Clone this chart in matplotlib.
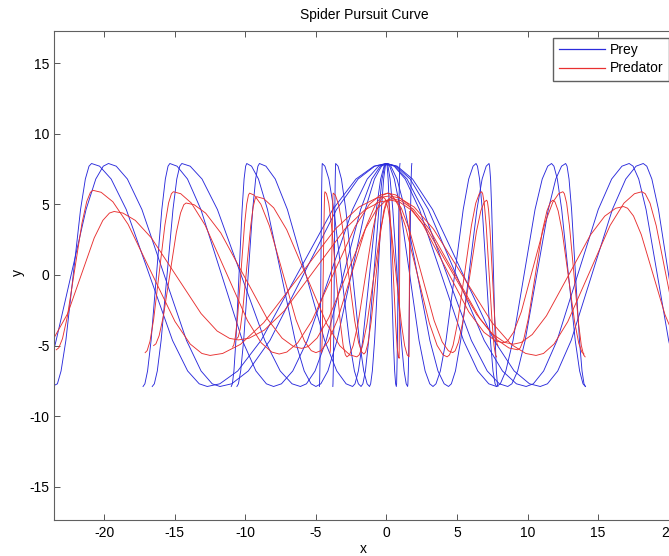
import matplotlib
matplotlib.use("Agg")
import matplotlib.pyplot as plt
from matplotlib.lines import Line2D

plt.rcParams['font.family'] = ['Liberation Sans', 'DejaVu Sans']
plt.rcParams['axes.unicode_minus'] = False

# prey (blue), amplitude ~7.9
rise = [-7.71, -6.80, -4.64, 0, 4.64, 6.80, 7.71]
fall = [7.71, 6.80, 4.64, 0, -4.64, -6.80, -7.71]

prey_x = [
    [-23.5, -23.32, -23.06, -22.72, -22.2, -21.68, -21.34, -21.08, -20.9, -20.33, -19.51, -18.44, -16.8, -15.16,
     -14.09, -13.27, -12.7, -11.81, -10.54, -8.89, -6.35, -3.81, -2.16, -0.89, 0, 0.76, 1.85, 3.27, 5.45, 7.63,
     9.05, 10.14, 10.9, 11.41, 12.14, 13.09, 14.55, 16.01, 16.96, 17.69, 18.2, 18.45, 18.81, 19.28, 20.0, 20.72,
     21.19, 21.55, 21.8],
    [-23.5, -23.41, -22.35, -21.29, -20.6, -20.07, -19.7, -19.15, -18.36, -17.33, -15.75, -14.17, -13.14, -12.35,
     -11.8, -10.97, -9.79, -8.26, -5.9, -3.54, -2.01, -0.83, 0, 0.69, 1.68, 2.97, 4.95, 6.93, 8.22, 9.21, 9.9,
     10.41, 11.14, 12.09, 13.55, 15.01, 15.96, 16.69, 17.2, 17.48, 17.88, 18.4, 19.2, 20.0, 20.52, 20.92, 21.2],
    [-17.25, -17.12, -16.93, -16.68, -16.3, -15.92, -15.67, -15.48, -15.35, -14.84, -14.1, -13.15, -11.68, -10.21,
     -9.25, -8.51, -8.0, -7.44, -6.64, -5.6, -4.0, -2.4, -1.36, -0.56, 0, 0.55, 1.33, 2.34, 3.9, 5.46, 6.47, 7.25,
     7.8, 8.07, 8.46, 8.97, 9.75, 10.53, 11.04, 11.43, 11.7, 11.87, 12.11, 12.42, 12.9, 13.38, 13.69, 13.93, 14.1],
    [-16.6, -16.45, -16.24, -15.97, -15.55, -15.13, -14.86, -14.65, -14.5, -13.91, -13.07, -11.98, -10.3, -8.62,
     -7.53, -6.69, -6.1, -5.67, -5.06, -4.27, -3.05, -1.83, -1.04, -0.43, 0, 0.6, 1.46, 2.58, 4.3, 6.02, 7.14, 8.0,
     8.6, 8.89, 9.3, 9.83, 10.65, 11.47, 12.0, 12.41, 12.7, 12.8, 12.94, 13.12, 13.4, 13.68, 13.86, 14.0, 14.1],
    [-11.0, -10.92, -10.81, -10.67, -10.45, -10.23, -10.09, -9.98, -9.9, -9.56, -9.07, -8.43, -7.45, -6.47, -5.83,
     -5.34, -5.0, -4.65, -4.15, -3.5, -2.5, -1.5, -0.85, -0.35, 0, 0.23, 0.56, 0.99, 1.65, 2.31, 2.74, 3.07, 3.3,
     3.51, 3.82, 4.22, 4.83, 5.44, 5.83, 6.14, 6.35, 6.45, 6.6, 6.79, 7.08, 7.37, 7.55, 7.7, 7.8],
    [-10.6, -10.49, -10.33, -10.12, -9.8, -9.48, -9.27, -9.11, -9.0, -8.54, -7.88, -7.02, -5.7, -4.38, -3.52, -2.86,
     -2.4, -2.23, -1.99, -1.68, -1.2, -0.72, -0.41, -0.17, 0, 0.31, 0.75, 1.32, 2.2, 3.08, 3.65, 4.09, 4.4, 4.6,
     4.89, 5.26, 5.84, 6.41, 6.78, 7.07, 7.27, 7.31, 7.38, 7.46, 7.59, 7.71, 7.79, 7.86, 7.9],
    [-4.75, -4.74, -4.72, -4.69, -4.65, -4.61, -4.58, -4.56, -4.55, -4.36, -4.08, -3.73, -3.18, -2.63, -2.27, -1.99,
     -1.8, -1.67, -1.49, -1.26, -0.9, -0.54, -0.31, -0.13, 0, 0.11, 0.26, 0.45, 0.75, 1.05, 1.25, 1.4, 1.5, 1.52,
     1.55, 1.59, 1.65, 1.71, 1.75, 1.78, 1.8],
    [-3.8, -3.79, -3.77, -3.74, -3.7, -3.66, -3.63, -3.61, -3.6, -3.43, -3.19, -2.88, -2.4, -1.92, -1.61, -1.37,
     -1.2, -1.12, -1.0, -0.84, -0.6, -0.36, -0.2, -0.08, 0, 0.05, 0.12, 0.21, 0.35, 0.49, 0.58, 0.65, 0.7, 0.72,
     0.74, 0.78, 0.83, 0.88, 0.92, 0.94, 0.96],
]
full_wave = ([-7.9] + rise + [7.9] + fall + [-7.9] + rise + [7.9] + fall
             + [-7.9] + rise + [7.9] + fall + [-7.9])
prey_y = [
    [-7.8] + full_wave[1:],
    [-5.0, -4.64, 0, 4.64, 6.80, 7.71, 7.9] + fall + [-7.9] + rise + [7.9] + fall + [-7.9] + rise + [7.9]
    + fall + [-7.9],
    full_wave,
    full_wave,
    full_wave,
    full_wave,
    full_wave[:41],
    full_wave[:41],
]

# predator (red)
pred_x = [
    [-23.4, -23.22, -22.96, -22.62, -22.1, -21.58, -21.24, -20.98, -20.8, -20.22, -19.39, -18.31, -16.65, -14.99,
     -13.91, -13.08, -12.5, -11.61, -10.34, -8.69, -6.15, -3.61, -1.96, -0.69, 0.2, 0.93, 1.97, 3.32, 5.4, 7.48,
     8.83, 9.87, 10.6, 11.13, 11.88, 12.85, 14.35, 15.85, 16.83, 17.58, 18.1, 18.34, 18.68, 19.12, 19.8, 20.48,
     20.92, 21.26, 21.5],
    [-23.5, -22.59, -21.65, -20.71, -20.1, -19.63, -19.3, -18.68, -17.8, -16.66, -14.9, -13.14, -12.0, -11.12, -10.5,
     -9.74, -8.66, -7.26, -5.1, -2.94, -1.54, -0.46, 0.3, 0.91, 1.78, 2.91, 4.65, 6.39, 7.52, 8.39, 9.0, 9.55,
     10.33, 11.34, 12.9, 14.46, 15.47, 16.25, 16.8, 17.09, 17.51, 18.06, 18.9, 19.74, 20.29, 20.71, 21.0],
    [-17.1, -16.96, -16.76, -16.5, -16.1, -15.7, -15.44, -15.24, -15.1, -14.58, -13.83, -12.85, -11.35, -9.85,
     -8.88, -8.13, -7.6, -7.06, -6.29, -5.29, -3.75, -2.21, -1.21, -0.44, 0.1, 0.67, 1.49, 2.56, 4.2, 5.84, 6.91,
     7.73, 8.3, 8.59, 9.01, 9.56, 10.4, 11.24, 11.79, 12.21, 12.5, 12.61, 12.77, 12.97, 13.29, 13.61, 13.81,
     13.97, 14.08],
    [-16.5, -16.34, -16.11, -15.81, -15.35, -14.89, -14.59, -14.36, -14.2, -13.63, -12.81, -11.74, -10.1, -8.46,
     -7.39, -6.57, -6.0, -5.55, -4.91, -4.08, -2.8, -1.52, -0.69, -0.05, 0.4, 1.02, 1.91, 3.07, 4.85, 6.63, 7.79,
     8.68, 9.3, 9.48, 9.73, 10.05, 10.55, 11.05, 11.38, 11.63, 11.8, 11.95, 12.17, 12.46, 12.9, 13.34, 13.63,
     13.85, 14.0],
    [-10.9, -10.82, -10.7, -10.54, -10.3, -10.06, -9.9, -9.78, -9.7, -9.37, -8.9, -8.29, -7.35, -6.41, -5.8, -5.33,
     -5.0, -4.64, -4.13, -3.47, -2.45, -1.43, -0.77, -0.26, 0.1, 0.39, 0.81, 1.36, 2.2, 3.04, 3.59, 4.01, 4.3,
     4.47, 4.72, 5.04, 5.53, 6.02, 6.33, 6.58, 6.75, 6.82, 6.93, 7.07, 7.28, 7.49, 7.62, 7.73, 7.8],
    [-10.6, -10.5, -10.36, -10.18, -9.9, -9.62, -9.44, -9.3, -9.2, -8.7, -7.99, -7.07, -5.65, -4.23, -3.31, -2.6,
     -2.1, -1.93, -1.69, -1.38, -0.9, -0.42, -0.11, 0.13, 0.3, 0.61, 1.05, 1.62, 2.5, 3.38, 3.95, 4.39, 4.7, 4.87,
     5.11, 5.42, 5.9, 6.38, 6.69, 6.93, 7.1, 7.16, 7.24, 7.34, 7.5, 7.66, 7.76, 7.84, 7.9],
    [-4.6, -4.58, -4.56, -4.53, -4.48, -4.43, -4.4, -4.38, -4.36, -4.25, -4.09, -3.89, -3.58, -3.27, -3.07, -2.91,
     -2.8, -2.62, -2.36, -2.02, -1.5, -0.98, -0.64, -0.38, -0.2, -0.07, 0.11, 0.34, 0.7, 1.06, 1.29, 1.47, 1.6,
     1.65],
    [-4.0, -3.98, -3.96, -3.93, -3.89, -3.84, -3.81, -3.79, -3.77, -3.62, -3.4, -3.12, -2.69, -2.25, -1.97, -1.75,
     -1.6, -1.48, -1.31, -1.09, -0.75, -0.41, -0.19, -0.02, 0.1, 0.16, 0.24, 0.34, 0.5, 0.66, 0.76, 0.84, 0.9,
     0.96],
]
pred_y = [
    [-5.3, -5.16, -4.51, -2.97, 0.35, 3.67, 5.21, 5.86, 6.0, 5.86, 5.19, 3.59, 0.15, -3.29, -4.89, -5.56, -5.7,
     -5.56, -4.91, -3.37, -0.05, 3.27, 4.81, 5.46, 5.6, 5.46, 4.81, 3.27, -0.05, -3.37, -4.91, -5.56, -5.7, -5.56,
     -4.89, -3.31, 0.1, 3.51, 5.09, 5.76, 5.9, 5.76, 5.09, 3.49, 0.05, -3.39, -4.99, -5.66, -5.8],
    [-4.35, -2.73, -0.05, 2.63, 3.87, 4.39, 4.5, 4.39, 3.87, 2.63, -0.05, -2.73, -3.97, -4.49, -4.6, -4.48, -3.91,
     -2.56, 0.35, 3.26, 4.61, 5.18, 5.3, 5.18, 4.59, 3.20, 0.2, -2.80, -4.19, -4.78, -4.9, -4.78, -4.22, -2.89,
     -0.03, 2.84, 4.17, 4.73, 4.85, 4.73, 4.18, 2.86, 0.03, -2.81, -4.13, -4.68, -4.8],
    [-5.5, -5.36, -4.71, -3.15, 0.2, 3.55, 5.11, 5.76, 5.9, 5.76, 5.10, 3.53, 0.15, -3.23, -4.80, -5.46, -5.6,
     -5.46, -4.81, -3.25, 0.1, 3.45, 5.01, 5.66, 5.8, 5.67, 5.06, 3.62, 0.5, -2.62, -4.06, -4.67, -4.8, -4.67,
     -4.06, -2.60, 0.55, 3.70, 5.16, 5.77, 5.9, 5.76, 5.09, 3.49, 0.05, -3.39, -4.99, -5.66, -5.8],
    [-5.0, -4.88, -4.30, -2.92, 0.05, 3.02, 4.40, 4.98, 5.1, 4.98, 4.38, 2.98, -0.05, -3.08, -4.48, -5.08, -5.2,
     -5.07, -4.46, -3.02, 0.1, 3.22, 4.66, 5.27, 5.4, 5.27, 4.66, 3.20, 0.05, -3.10, -4.56, -5.17, -5.3, -5.17,
     -4.56, -3.12, 0, 3.12, 4.56, 5.17, 5.3, 5.17, 4.54, 3.05, -0.15, -3.35, -4.84, -5.47, -5.6],
    [-5.1, -4.97, -4.34, -2.85, 0.35, 3.55, 5.04, 5.67, 5.8, 5.66, 5.01, 3.47, 0.15, -3.17, -4.71, -5.36, -5.5,
     -5.36, -4.71, -3.17, 0.15, 3.47, 5.01, 5.66, 5.8, 5.66, 4.99, 3.41, 0, -3.41, -4.99, -5.66, -5.8, -5.66,
     -4.99, -3.39, 0.05, 3.49, 5.09, 5.76, 5.9, 5.76, 5.09, 3.49, 0.05, -3.39, -4.99, -5.66, -5.8],
    [-4.5, -4.38, -3.80, -2.43, 0.53, 3.48, 4.85, 5.43, 5.55, 5.41, 4.76, 3.21, -0.13, -3.46, -5.01, -5.66, -5.8,
     -5.66, -5.01, -3.47, -0.15, 3.17, 4.71, 5.36, 5.5, 5.37, 4.74, 3.23, 0, -3.23, -4.74, -5.37, -5.5, -5.37,
     -4.75, -3.28, -0.1, 3.08, 4.55, 5.17, 5.3, 5.18, 4.58, 3.18, 0.15, -2.88, -4.28, -4.88, -5.0],
    [-5.5, -5.36, -4.71, -3.15, 0.2, 3.55, 5.11, 5.76, 5.9, 5.76, 5.09, 3.49, 0.05, -3.39, -4.99, -5.66, -5.8,
     -5.66, -5.01, -3.47, -0.15, 3.17, 4.71, 5.36, 5.5, 5.36, 4.71, 3.17, -0.15, -3.47, -5.01, -5.66, -5.8, 4.5],
    [-5.5, -5.36, -4.71, -3.17, 0.15, 3.47, 5.01, 5.66, 5.8, 5.66, 5.01, 3.45, 0.1, -3.25, -4.81, -5.46, -5.6,
     -5.47, -4.84, -3.35, -0.15, 3.05, 4.54, 5.17, 5.3, 5.17, 4.52, 2.99, -0.3, -3.59, -5.12, -5.77, -5.9, 4.8],
]

blue = '#2b2bdc'
red = '#e83030'

fig = plt.figure(figsize=(6.69, 5.56), dpi=100)
ax = fig.add_axes([54.3 / 669, 36 / 556, 620.7 / 669, 489.3 / 556])

for xs, ys in zip(prey_x, prey_y):
    ax.plot(xs, ys, color=blue, lw=0.65)
for xs, ys in zip(pred_x, pred_y):
    ax.plot(xs, ys, color=red, lw=0.65)

ax.set_xlim(-23.54, 20.45)
ax.set_ylim(-17.36, 17.31)
ax.set_xticks([-20, -15, -10, -5, 0, 5, 10, 15, 20])
ax.set_yticks([-15, -10, -5, 0, 5, 10, 15])
ax.tick_params(direction='in', top=True, right=True, length=4.2, width=0.7,
               color='#555555', labelsize=10, pad=4.5)
ax.tick_params(axis='y', pad=3.5)
for s in ax.spines.values():
    s.set_color('#606060')
    s.set_linewidth(0.8)

fig.text(364 / 669, 1 - 15 / 556, 'Spider Pursuit Curve', ha='center', va='center', fontsize=10)
fig.text(363 / 669, 1 - 549 / 556, 'x', ha='center', va='center', fontsize=10)
fig.text(18 / 669, 1 - 272 / 556, 'y', ha='center', va='center', fontsize=10, rotation=90)

handles = [Line2D([], [], color=blue, lw=0.9), Line2D([], [], color=red, lw=0.9)]
fig.legend(handles, ['Prey', 'Predator'], loc='upper right',
           bbox_to_anchor=(668.7 / 669, 1 - 37.7 / 556), fontsize=10,
           handlelength=3.3, handletextpad=0.35, borderpad=0.4, labelspacing=0.3,
           borderaxespad=0, fancybox=False, framealpha=1, edgecolor='#606060')

plt.savefig('out.png', dpi=100)
